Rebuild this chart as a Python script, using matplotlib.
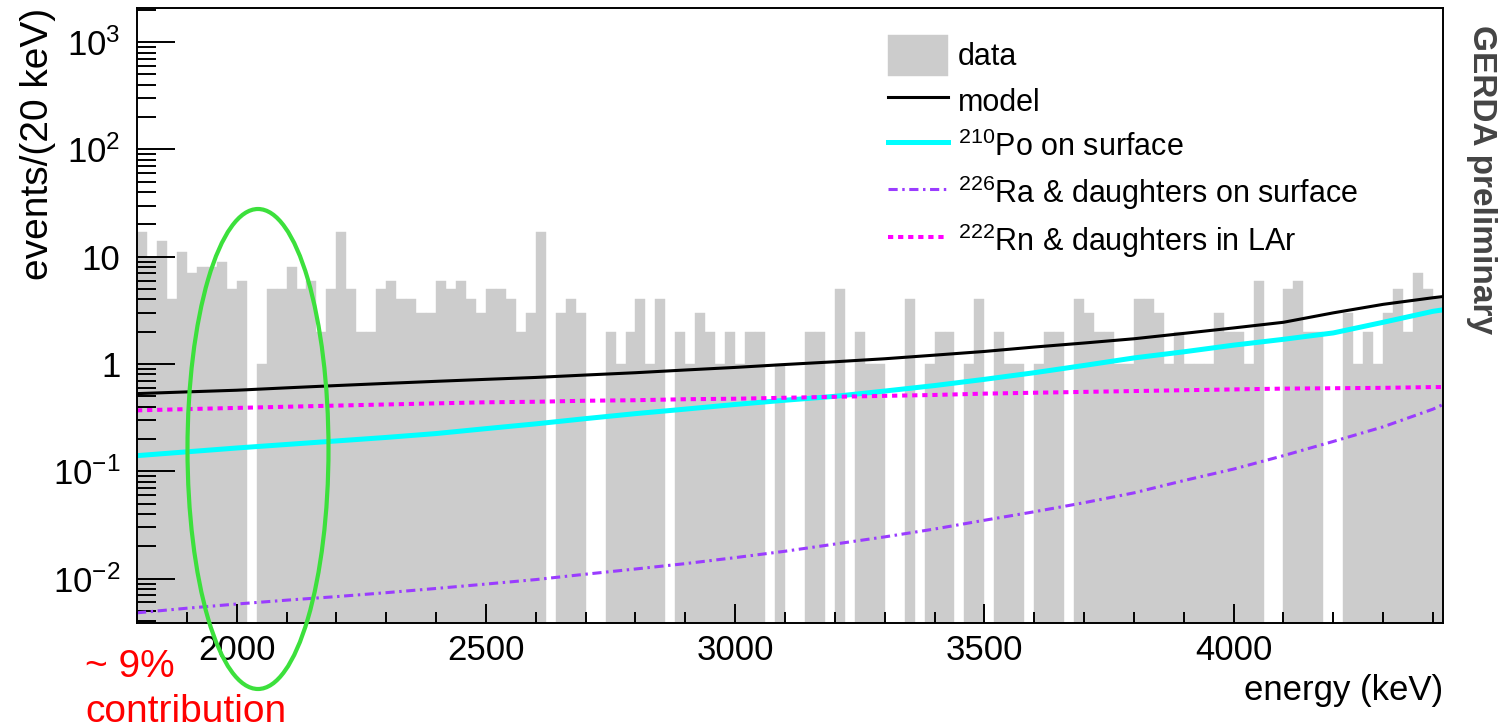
import matplotlib
matplotlib.use("Agg")
import matplotlib.pyplot as plt
from matplotlib.patches import Ellipse, Rectangle
from matplotlib.legend_handler import HandlerPatch
from matplotlib.ticker import FixedLocator, MultipleLocator, LogLocator, NullFormatter
import numpy as np

plt.rcParams['font.family'] = ['Liberation Sans', 'DejaVu Sans']
plt.rcParams['mathtext.fontset'] = 'custom'
plt.rcParams['mathtext.rm'] = 'Liberation Sans'
plt.rcParams['mathtext.it'] = 'Liberation Sans:italic'

# histogram: 20 keV bins from 1800 keV
bin_edges = np.arange(1800, 4421, 20)
counts = [17, 10, 14, 4, 11, 7, 8, 8, 9, 5,
          6, 0, 1, 5, 5, 8, 5, 6, 2, 5,
          17, 5, 2, 2, 5, 6, 4, 4, 3, 3,
          6, 5, 6, 4, 3, 5, 5, 4, 2, 3,
          17, 0, 3, 4, 3, 0, 0, 2, 1, 2,
          4, 1, 4, 0, 2, 1, 3, 2, 1, 2,
          1, 2, 2, 0, 1, 0, 0, 2, 2, 0,
          5, 0, 2, 1, 1, 0, 0, 4, 0, 1,
          2, 2, 0, 1, 4, 0, 2, 1, 1, 0,
          1, 2, 2, 0, 4, 3, 2, 2, 1, 1,
          4, 4, 3, 1, 2, 1, 1, 1, 3, 2,
          2, 1, 6, 0, 0, 5, 6, 2, 2, 0,
          0, 3, 1, 2, 1, 3, 5, 2, 7, 5,
          4]

# model curves (read every 100 keV)
curve_energy = [1800, 1900, 2000, 2100, 2200, 2300, 2400, 2500, 2600, 2700,
                2800, 2900, 3000, 3100, 3200, 3300, 3400, 3500, 3600, 3700,
                3800, 3900, 4000, 4100, 4200, 4300, 4400, 4420]
model = [0.53, 0.55, 0.57, 0.60, 0.63, 0.66, 0.69, 0.72, 0.75, 0.79,
         0.83, 0.88, 0.93, 0.99, 1.05, 1.12, 1.21, 1.31, 1.44, 1.57,
         1.72, 1.93, 2.17, 2.45, 3.0, 3.6, 4.15, 4.25]
po210 = [0.140, 0.152, 0.165, 0.178, 0.192, 0.207, 0.225, 0.25, 0.277, 0.31,
         0.345, 0.38, 0.42, 0.46, 0.50, 0.56, 0.63, 0.72, 0.83, 0.97,
         1.14, 1.3, 1.5, 1.7, 1.95, 2.45, 3.1, 3.2]
ra226 = [0.0048, 0.0053, 0.0058, 0.0063, 0.0068, 0.0074, 0.0081, 0.0089, 0.0098, 0.011,
         0.0123, 0.0138, 0.0157, 0.018, 0.021, 0.0245, 0.029, 0.035, 0.042, 0.051,
         0.063, 0.082, 0.105, 0.14, 0.19, 0.26, 0.38, 0.42]
rn222 = [0.37, 0.38, 0.39, 0.40, 0.41, 0.42, 0.43, 0.44, 0.445, 0.455,
         0.46, 0.47, 0.475, 0.485, 0.495, 0.505, 0.515, 0.53, 0.54, 0.55,
         0.56, 0.57, 0.58, 0.59, 0.595, 0.60, 0.61, 0.61]

xticks = [2000, 2500, 3000, 3500, 4000]
yticks = [0.01, 0.1, 1, 10, 100, 1000]
ytick_labels = ['$10^{-2}$', '$10^{-1}$', '1', '10', '$10^{2}$', '$10^{3}$']
legend_labels = ['data', 'model', '$^{210}$Po on surface',
                 '$^{226}$Ra & daughters on surface',
                 '$^{222}$Rn & daughters in LAr']

W, H = 1500, 727
fig = plt.figure(figsize=(15, 7.27), dpi=100)
ax = fig.add_axes([137 / W, 1 - 623 / H, 1306 / W, 615 / H])

bars = ax.bar(bin_edges[:-1], counts, width=20, align='edge', color='#cccccc',
              edgecolor='#cccccc', linewidth=0.3, zorder=1)
l_model, = ax.plot(curve_energy, model, color='black', lw=2.2, zorder=4)
l_po, = ax.plot(curve_energy, po210, color='#00ffff', lw=3.6, zorder=3)
l_ra, = ax.plot(curve_energy, ra226, color='#9a3cff', lw=2.2,
                linestyle=(0, (3.0, 1.5, 0.8, 1.5)), zorder=3)
l_rn, = ax.plot(curve_energy, rn222, color='#ff00ff', lw=2.9,
                linestyle=(0, (1.3, 1.2)), zorder=3)

ax.set_yscale('log')
ax.set_xlim(1800, 4420)
ax.set_ylim(0.00386, 2080)

ax.xaxis.set_major_locator(FixedLocator(xticks))
ax.xaxis.set_minor_locator(MultipleLocator(100))
ax.yaxis.set_major_locator(FixedLocator(yticks))
ax.set_yticklabels(ytick_labels)
ax.yaxis.set_minor_locator(LogLocator(base=10, subs=np.arange(2, 10), numticks=30))
ax.yaxis.set_minor_formatter(NullFormatter())

ax.tick_params(axis='both', which='both', direction='in', top=False, right=False,
               width=1.4, labelsize=25, color='black')
ax.tick_params(axis='y', which='major', length=27, pad=12)
ax.tick_params(axis='y', which='minor', length=13.5)
ax.tick_params(axis='x', which='major', length=14, pad=8)
ax.tick_params(axis='x', which='minor', length=8)
for s in ax.spines.values():
    s.set_linewidth(1.4)
    s.set_zorder(5)

ax.set_xlabel('energy (keV)', fontsize=25, loc='right', labelpad=5)
ax.set_ylabel('events/(20 keV)', fontsize=28, loc='top')
ax.yaxis.set_label_coords(-0.062, 1.0)


def data_handle(legend, orig_handle, xdescent, ydescent, width, height, fontsize):
    return Rectangle((-xdescent, -ydescent - 0.08 * height), width, 1.16 * height)


ax.legend([bars[0], l_model, l_po, l_ra, l_rn], legend_labels, loc='upper left',
          bbox_to_anchor=(0.575, 0.952), frameon=False, fontsize=22,
          handlelength=1.95, handleheight=1.4, handletextpad=0.33,
          labelspacing=0.33, borderpad=0, borderaxespad=0,
          handler_map={Rectangle: HandlerPatch(patch_func=data_handle)})

fig.text(1482 / W, 1 - 25 / H, 'GERDA preliminary', rotation=-90, ha='center',
         va='top', fontsize=24, fontweight='bold', color='#444444')

# annotation: ellipse around the Qbb region and the red note
fig.add_artist(Ellipse((258 / W, 1 - 449 / H), 141 / W, 480 / H,
                       transform=fig.transFigure, fill=False,
                       edgecolor='#3ce03c', lw=3, zorder=10))
fig.text(85 / W, 1 - 677 / H, '~ 9%', color='#ff0000',
         fontsize=28, va='baseline', ha='left')
fig.text(85 / W, 1 - 722 / H, 'contribution', color='#ff0000',
         fontsize=28, va='baseline', ha='left')

fig.savefig('out.png', dpi=100)
